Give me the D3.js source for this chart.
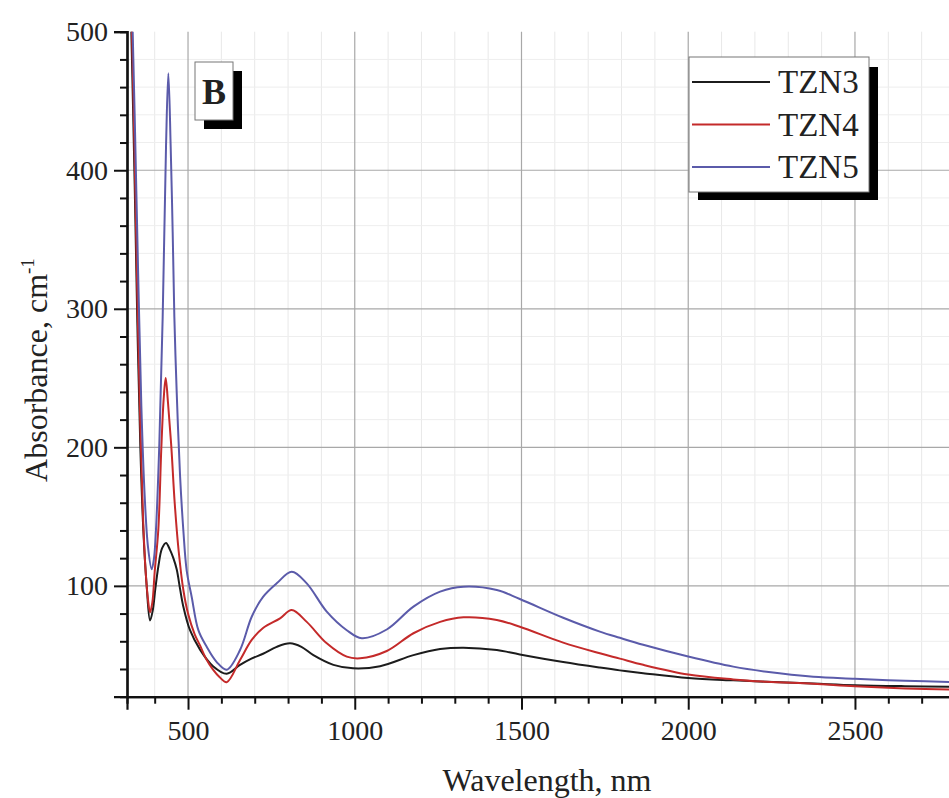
<!DOCTYPE html>
<html>
<head>
<meta charset="utf-8">
<script src="https://cdn.jsdelivr.net/npm/d3@7"></script>
<style>
  html, body { margin: 0; padding: 0; background: #fff; }
  svg { display: block; }
  text { font-family: "Liberation Serif", "Times New Roman", serif; fill: #222; }
</style>
</head>
<body>
<svg id="chart" width="949" height="798"></svg>
<script>
// ---- Data ----
const seriesNames = ["TZN3", "TZN4", "TZN5"];
const seriesColors = ["#1c1c1c", "#c42a2a", "#5b5baa"];

const tzn3 = [
  [320,600],[330,500],[340,390],[348,290],[357,200],[366,140],[376,100],[386,75],[394,82],[402,98],
  [411,114],[422,127],[434,131],[446,126],[456,120],[466,112],[476,98],[486,85],[506,68],[536,54],
  [575,42],[616,36.5],[656,43],[690,47.5],[725,51],[766,56],[806,58.5],[840,56],[876,50],[936,43],
  [995,40.5],[1076,42],[1176,50],[1256,54.4],[1326,55.4],[1426,53.7],[1495,50.5],[1625,45],[1735,41],
  [1795,39],[1865,37],[2000,33.5],[2135,31.8],[2235,30.8],[2375,29.5],[2500,28.3],[2650,27.6],[2800,27.2]
];
const tzn4 = [
  [320,620],[330,520],[340,410],[348,310],[357,215],[365,150],[373,110],[380,90],[386,81],[393,88],
  [400,110],[411,141],[420,200],[427,235],[433,250],[440,232],[450,200],[460,160],[472,125],[486,97],
  [500,80],[520,65],[536,57],[555,47],[575,39.5],[595,34],[616,30.5],[656,46.5],[691,61],[725,69.6],
  [776,76.6],[811,82.6],[856,74],[916,58.5],[976,48.9],[1016,47.7],[1096,53],[1176,65.8],[1256,74],
  [1326,77.3],[1426,75.4],[1495,70.5],[1625,59],[1735,51.3],[1795,47.5],[1865,43],[2000,36],
  [2135,32.5],[2235,30.8],[2375,29.3],[2500,27.5],[2650,26],[2800,25]
];
const tzn5 = [
  [320,640],[330,540],[340,440],[350,330],[360,230],[370,165],[380,128],[391,112],[398,120],[404,141],
  [414,203],[424,294],[434,417],[441,470],[448,417],[454,355],[459,294],[466,240],[476,180],[486,140],
  [496,111],[511,92],[531,68],[556,56],[586,45],[616,39.5],[656,53.7],[691,77.7],[725,92],[766,101.8],
  [811,110.2],[856,101.8],[916,81.4],[976,68],[1021,62.2],[1096,68.5],[1176,85],[1256,95.8],[1326,99.4],
  [1426,97],[1495,90.5],[1625,77],[1735,67],[1795,62.5],[1865,57.5],[2000,49],[2135,41.7],
  [2235,38],[2375,34.4],[2500,33],[2650,31.5],[2800,30.6]
];
const seriesData = [tzn3, tzn4, tzn5];

const xMajorTicks = [500, 1000, 1500, 2000, 2500];
const xMinorTicks = [400, 600, 700, 800, 900, 1100, 1200, 1300, 1400, 1600, 1700, 1800, 1900, 2100, 2200, 2300, 2400, 2600, 2700];
const yMajorTicks = [100, 200, 300, 400, 500];
const yMinorTicks = [40, 60, 80, 120, 140, 160, 180, 220, 240, 260, 280, 320, 340, 360, 380, 420, 440, 460, 480];

const xLabel = "Wavelength, nm";
const yLabel = "Absorbance, cm";
const panelLabel = "B";

// ---- Layout ----
const svg = d3.select("#chart");
const plotL = 127, plotR = 955, plotT = 31.7, plotB = 696.7;
const serif = '"Liberation Serif", "Times New Roman", serif';

const x = d3.scaleLinear().domain([317, 2800]).range([plotL, plotR]);
const y = d3.scaleLinear().domain([20, 500]).range([plotB, plotT]);

// Grid
const grid = svg.append("g");
grid.selectAll(".gxm").data(xMinorTicks).join("line")
  .attr("x1", d => x(d)).attr("x2", d => x(d)).attr("y1", plotT).attr("y2", plotB)
  .attr("stroke", "#e8e8e8").attr("stroke-width", 1);
grid.selectAll(".gym").data(yMinorTicks).join("line")
  .attr("x1", plotL).attr("x2", 949).attr("y1", d => y(d)).attr("y2", d => y(d))
  .attr("stroke", "#eeeeee").attr("stroke-width", 1);
grid.selectAll(".gxM").data(xMajorTicks).join("line")
  .attr("x1", d => x(d)).attr("x2", d => x(d)).attr("y1", plotT).attr("y2", plotB)
  .attr("stroke", "#a8a8a8").attr("stroke-width", 1.2);
grid.selectAll(".gyM").data(yMajorTicks.filter(d => d < 500)).join("line")
  .attr("x1", plotL).attr("x2", 949).attr("y1", d => y(d)).attr("y2", d => y(d))
  .attr("stroke", "#a8a8a8").attr("stroke-width", 1.2);

// Clip
svg.append("clipPath").attr("id", "clip").append("rect")
  .attr("x", plotL).attr("y", plotT).attr("width", 949 - plotL).attr("height", plotB - plotT);

const line = d3.line().x(d => x(d[0])).y(d => y(d[1])).curve(d3.curveCatmullRom.alpha(0.5));
const lines = svg.append("g").attr("clip-path", "url(#clip)");
seriesData.forEach((data, i) => {
  lines.append("path").datum(data)
    .attr("fill", "none")
    .attr("stroke", seriesColors[i])
    .attr("stroke-width", 2)
    .attr("stroke-linejoin", "round")
    .attr("d", line);
});

// Axes
const xAxisMinor = d3.axisBottom(x).tickValues(xMinorTicks).tickSize(7).tickFormat("");
const xAxisMajor = d3.axisBottom(x).tickValues(xMajorTicks).tickSize(13).tickFormat(d3.format("d")).tickPadding(10);
const yAxisMinor = d3.axisLeft(y).tickValues(yMinorTicks).tickSize(7).tickFormat("");
const yAxisMajor = d3.axisLeft(y).tickValues(yMajorTicks).tickSize(13).tickFormat(d3.format("d")).tickPadding(6);

function styleAxis(g) {
  g.attr("font-family", null).attr("font-size", null);
  g.select(".domain").attr("stroke", "#111").attr("stroke-width", 2.2);
  g.selectAll(".tick line").attr("stroke", "#111").attr("stroke-width", 2);
  g.selectAll("text").style("font-family", serif).style("font-size", "28px").attr("fill", "#222");
}

svg.append("g").attr("transform", `translate(0,${plotB})`).call(xAxisMinor).call(styleAxis);
svg.append("g").attr("transform", `translate(0,${plotB})`).call(xAxisMajor).call(styleAxis);
svg.append("g").attr("transform", `translate(${plotL},0)`).call(yAxisMinor).call(styleAxis);
svg.append("g").attr("transform", `translate(${plotL},0)`).call(yAxisMajor).call(styleAxis);

// Axis titles
svg.append("text").attr("x", 547).attr("y", 791).attr("text-anchor", "middle")
  .style("font-family", serif).style("font-size", "32px").text(xLabel);

const yt = svg.append("text").attr("transform", "translate(47,370) rotate(-90)")
  .attr("text-anchor", "middle").style("font-family", serif).style("font-size", "32px");
yt.append("tspan").text(yLabel);
yt.append("tspan").attr("dy", -13).style("font-size", "19px").text("-1");

// Panel label box
const pb = svg.append("g");
pb.append("rect").attr("x", 204).attr("y", 71).attr("width", 38).attr("height", 58).attr("fill", "#000");
pb.append("rect").attr("x", 195).attr("y", 62).attr("width", 38).attr("height", 58)
  .attr("fill", "#fff").attr("stroke", "#777").attr("stroke-width", 1);
pb.append("text").attr("x", 214).attr("y", 104).attr("text-anchor", "middle")
  .style("font-family", serif).style("font-size", "36px").style("font-weight", "bold").attr("fill", "#111").text(panelLabel);

// Legend
const lg = svg.append("g");
lg.append("rect").attr("x", 698).attr("y", 67).attr("width", 180).attr("height", 133).attr("fill", "#000");
lg.append("rect").attr("x", 689).attr("y", 57).attr("width", 180).attr("height", 135)
  .attr("fill", "#fff").attr("stroke", "#777").attr("stroke-width", 1);
seriesNames.forEach((name, i) => {
  const yy = 82 + i * 42.5;
  lg.append("line").attr("x1", 692).attr("x2", 770).attr("y1", yy).attr("y2", yy)
    .attr("stroke", seriesColors[i]).attr("stroke-width", 2);
  lg.append("text").attr("x", 778).attr("y", yy + 11).style("font-family", serif)
    .style("font-size", "33px").text(name);
});
</script>
</body>
</html>
